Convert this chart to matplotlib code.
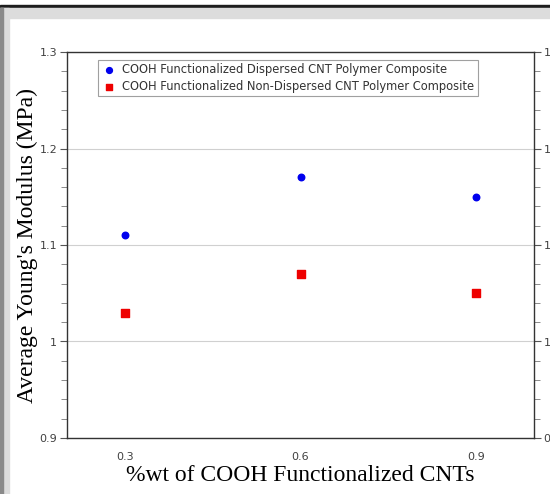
import matplotlib.pyplot as plt
from matplotlib.patches import Rectangle
from matplotlib.ticker import MultipleLocator

# Data
wt_pct = [0.3, 0.6, 0.9]
dispersed = [1.11, 1.17, 1.15]
non_dispersed = [1.03, 1.07, 1.05]

fig = plt.figure(figsize=(5.5, 4.94), dpi=100)

# window-like frame around the figure
def frame_rect(x, y, w, h, c):
    fig.patches.append(Rectangle((x / 550, 1 - (y + h) / 494), w / 550, h / 494,
                                 transform=fig.transFigure, color=c, zorder=0))

frame_rect(0, 5, 550, 3, '#1e1e1e')
frame_rect(0, 8, 550, 10, '#dcdcdc')
frame_rect(0, 8, 9, 486, '#dcdcdc')
frame_rect(0, 8, 3, 486, '#8a8a8a')

ax = fig.add_axes([67 / 550, 1 - 438 / 494, (534 - 67) / 550, (438 - 52) / 494])

ax.scatter(wt_pct, dispersed, color='#0000ee', s=22, marker='o', zorder=3,
           label='COOH Functionalized Dispersed CNT Polymer Composite')
ax.scatter(wt_pct, non_dispersed, color='#ee0000', s=26, marker='s', zorder=3,
           label='COOH Functionalized Non-Dispersed CNT Polymer Composite')

ax.set_xlim(0.2, 1.0)
ax.set_ylim(0.9, 1.3)
ax.set_xticks(wt_pct)
ax.set_xticklabels(['0.3', '0.6', '0.9'])
ax.set_yticks([0.9, 1.0, 1.1, 1.2, 1.3])
ax.set_yticklabels(['0.9', '1', '1.1', '1.2', '1.3'])
ax.yaxis.set_minor_locator(MultipleLocator(0.02))
ax.grid(axis='y', which='major', color='#d0d0d0', linewidth=0.8)
ax.set_axisbelow(True)

ax.tick_params(axis='x', length=0, labelsize=8, labelcolor='#404040', pad=10)
ax.tick_params(axis='y', which='major', length=5, labelsize=8, labelcolor='#404040',
               color='#555555', right=True, labelright=True, pad=2)
ax.tick_params(axis='y', which='minor', length=4, color='#777777', right=True)
for s in ax.spines.values():
    s.set_color('#333333')
    s.set_linewidth(1.0)

ax.set_xlabel('%wt of COOH Functionalized CNTs', family='Liberation Serif',
              fontsize=17, labelpad=2)
ax.set_ylabel("Average Young's Modulus (MPa)", family='Liberation Serif',
              fontsize=17, labelpad=1)

leg = ax.legend(loc='upper left', bbox_to_anchor=(25 / 467, 0.995), fontsize=8.3,
                frameon=True, fancybox=False, edgecolor='#888888',
                handletextpad=0.4, borderpad=0.3, labelspacing=0.3,
                markerscale=0.9, handlelength=1.4)
leg.get_frame().set_linewidth(0.8)
for t in leg.get_texts():
    t.set_color('#333333')

fig.savefig('out.png', dpi=100)
